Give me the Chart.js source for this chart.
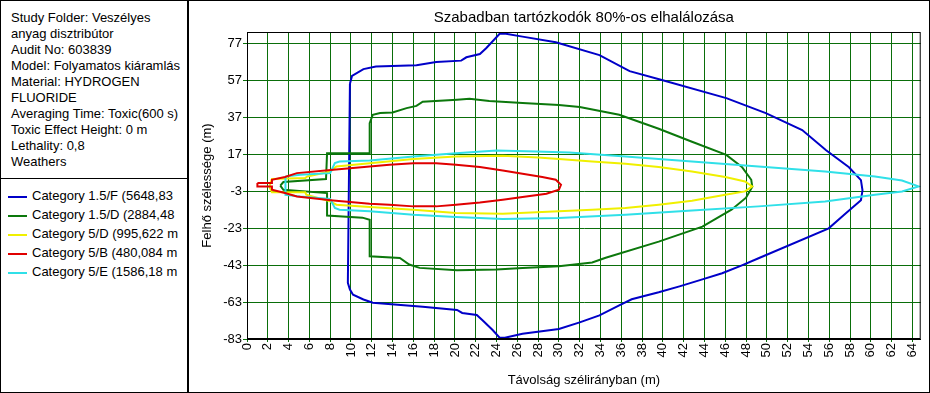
<!DOCTYPE html>
<html>
<head>
<meta charset="utf-8">
<script src="https://cdn.jsdelivr.net/npm/chart.js@4"></script>
<style>
  body { margin: 0; background: #fff; font-family: "Liberation Sans", Arial, sans-serif; }
  #frame { position: absolute; left: 0; top: 0; width: 930px; height: 393px; border: 1px solid #000; box-sizing: border-box; }
  #side { position: absolute; left: 0; top: 0; width: 187px; height: 393px; border-right: 2px solid #000; }
  #info { position: absolute; left: 11px; top: 10px; font-size: 13px; line-height: 16px; white-space: nowrap; }
  #sep { position: absolute; left: 0; top: 178px; width: 187px; height: 1px; background: #000; }
  #legend { position: absolute; left: 8px; top: 186px; font-size: 13px; }
  .item { height: 19px; line-height: 19px; white-space: nowrap; }
  .swatch { display: inline-block; width: 19px; height: 2px; vertical-align: middle; margin-right: 5px; }
  #wrap { position: absolute; left: 189px; top: 1px; width: 740px; height: 391px; }
</style>
</head>
<body>
<div id="frame"></div>
<div id="side">
  <div id="info">
    <div>Study Folder: Veszélyes</div>
    <div>anyag disztribútor</div>
    <div>Audit No: 603839</div>
    <div>Model: Folyamatos kiáramlás</div>
    <div>Material: HYDROGEN</div>
    <div>FLUORIDE</div>
    <div>Averaging Time: Toxic(600 s)</div>
    <div>Toxic Effect Height: 0 m</div>
    <div>Lethality: 0,8</div>
    <div>Weathers</div>
  </div>
  <div id="sep"></div>
  <div id="legend"></div>
</div>
<div id="wrap"><canvas id="hazard-chart" width="740" height="391"></canvas></div>
<script>
// Series names (as shown, truncated) and colours
const seriesNames = [
  'Category 1.5/F (5648,83',
  'Category 1.5/D (2884,48',
  'Category 5/D (995,622 m',
  'Category 5/B (480,084 m',
  'Category 5/E (1586,18 m'
];
const seriesColors = ['#0000c8', '#0c780c', '#f0f000', '#e00000', '#30e0e8'];
const chartTitle = 'Szabadban tartózkodók 80%-os elhalálozása';

// Axis ticks
const xTicks = [0, 2, 4, 6, 8, 10, 12, 14, 16, 18, 20, 22, 24, 26, 28, 30, 32,
  34, 36, 38, 40, 42, 44, 46, 48, 50, 52, 54, 56, 58, 60, 62, 64];
const yTicks = [-83, -63, -43, -23, -3, 17, 37, 57, 77];

// Category 1.5/F contour
const f15X = [9.9, 10.1, 11.2, 12.4, 16.3, 18.2, 20.6, 21.1, 22.4, 23.0, 24.3, 24.9, 26.5, 29.7,
  33.9, 36.8, 39.9, 46.1, 49.9, 53.4, 55.7, 57.9, 59.05, 59.2, 59.05, 57.6, 55.95, 49.2,
  47.6, 45.7, 43.8, 41.6, 39.6, 37.0, 35.8, 33.9, 32.0, 30.0, 26.5, 24.8, 24.3, 23.6,
  22.6, 22.1, 20.7, 20.2, 16.9, 12.1, 11.2, 10.2, 9.9, 9.7, 9.9];
const f15Y = [55.2, 59.4, 63.1, 64.5, 65.2, 67.0, 67.7, 69.5, 71.3, 74.4, 82.2, 82.2, 80.7, 77.6,
  70.7, 62.0, 57.2, 47.4, 39.3, 30.1, 19.2, 10.0, 3.0, -2.5, -7.9, -14.9, -23.1, -39.3,
  -43.1, -47.4, -50.7, -54.5, -57.7, -61.5, -64.8, -70.2, -74.0, -77.6, -80.2, -82.3, -82.3, -78.0,
  -72.6, -70.0, -68.9, -67.3, -65.5, -63.4, -61.6, -59.0, -56.2, -52.6, 55.2];

// Category 1.5/D contour
const d15X = [3.2, 3.5, 7.6, 7.7, 11.8, 11.8, 12.1, 12.8, 14.0, 15.35, 16.3, 16.9, 20.2, 21.4,
  23.3, 26.5, 30.0, 32.0, 35.8, 39.6, 42.8, 46.1, 47.6, 48.5, 48.6, 48.0, 46.6, 43.8, 39.6,
  34.5, 33.2, 30.0, 26.5, 24.0, 20.2, 16.6, 15.6, 14.7, 11.8, 11.8, 11.1, 7.7, 7.7, 3.5, 3.2];
const d15Y = [0.0, 2.0, 3.6, 17.5, 17.5, 33.8, 38.4, 39.4, 39.6, 42.0, 43.2, 45.5, 46.5, 47.0,
  45.9, 44.8, 43.7, 42.6, 38.4, 30.8, 23.8, 16.7, 10.2, 3.2, -0.6, -6.5, -13.0, -22.2, -30.3,
  -39.0, -41.6, -43.6, -44.5, -45.4, -45.8, -44.5, -42.7, -39.1, -38.2, -18.4, -17.3, -16.2, -4.0, -2.2, 0.0];

// Category 5/D contour
const d5X = [2.2, 2.4, 5.6, 5.8, 8.0, 8.6, 11.8, 16.0, 20.1, 24.6, 28.0, 30.0, 33.2, 36.4, 39.6,
  42.8, 46.0, 47.9, 48.6, 47.9, 46.0, 42.8, 39.6, 36.4, 33.2, 30.0, 24.6, 20.1, 16.0, 11.8,
  8.6, 8.0, 5.7, 5.6, 2.4, 2.2, 2.2];
const d5Y = [0.5, 3.6, 4.1, 5.0, 7.7, 10.4, 12.2, 14.4, 15.8, 16.2, 15.3, 14.4, 13.1, 11.9, 10.1,
  7.7, 4.7, 2.3, -0.4, -3.1, -4.9, -8.1, -10.3, -12.1, -13.0, -13.9, -15.2, -14.8, -13.0, -11.6,
  -10.3, -8.5, -4.9, -3.6, -3.6, -1.3, 0.5];

// Category 5/B contour
const b5X = [1.0, 2.4, 2.4, 3.65, 4.8, 8.3, 11.8, 13.7, 16.0, 18.2, 20.1, 22.4, 24.6, 26.5, 28.4,
  29.7, 30.2, 30.0, 28.8, 26.5, 24.6, 22.4, 20.1, 18.2, 16.0, 13.7, 11.8, 8.3, 4.8, 3.65,
  2.4, 2.4, 1.0, 1.0];
const b5Y = [1.4, 1.4, 3.2, 4.7, 6.8, 8.6, 10.4, 11.3, 12.2, 12.2, 11.3, 10.1, 8.2, 6.5, 4.7,
  3.2, 0.5, -2.2, -4.4, -6.1, -7.6, -9.1, -10.3, -11.2, -11.2, -10.3, -9.8, -8.0, -5.8, -4.0,
  -2.2, -0.4, -0.4, 1.4];

// Category 5/E contour
const e5X = [3.7, 5.1, 8.0, 8.45, 8.9, 11.8, 16.0, 20.1, 24.0, 27.8, 31.0, 36.4, 42.8, 49.2, 55.6,
  60.4, 63.0, 64.6, 63.0, 60.4, 55.6, 49.2, 42.8, 36.4, 30.0, 24.6, 20.1, 16.0, 11.8, 8.9,
  8.45, 8.0, 5.1, 3.7, 3.7];
const e5Y = [5.0, 5.9, 6.8, 12.2, 13.1, 13.6, 15.8, 17.6, 19.1, 18.5, 18.0, 15.8, 13.1, 10.4, 7.7,
  5.0, 2.8, -0.4, -3.1, -4.9, -8.5, -11.2, -13.4, -15.7, -17.5, -18.0, -16.9, -15.7, -13.9, -13.0,
  -12.1, -7.2, -5.8, -4.9, 5.0];

const seriesX = [f15X, d15X, d5X, b5X, e5X];
const seriesY = [f15Y, d15Y, d5Y, b5Y, e5Y];
const drawOrder = [5, 4, 3, 1, 2];

// Legend in the side panel
const legendBox = document.getElementById('legend');
seriesNames.forEach((name, i) => {
  const row = document.createElement('div');
  row.className = 'item';
  row.innerHTML = '<span class="swatch" style="background:' + seriesColors[i] + '"></span>' + name;
  legendBox.appendChild(row);
});

const datasets = seriesNames.map((name, i) => ({
  label: name,
  data: seriesX[i].map((x, k) => ({ x: x, y: seriesY[i][k] })),
  showLine: true,
  fill: false,
  borderColor: seriesColors[i],
  backgroundColor: seriesColors[i],
  borderWidth: 2,
  pointRadius: 0,
  tension: 0,
  order: drawOrder[i]
}));

const fontFamily = '"Liberation Sans", Arial, sans-serif';

// Black frame around plot area + title centred over the plot
const plotFrame = {
  id: 'plotFrame',
  afterDraw(chart) {
    const { ctx, chartArea: a } = chart;
    ctx.save();
    ctx.strokeStyle = '#000';
    ctx.lineWidth = 1;
    ctx.strokeRect(a.left + 0.5, a.top + 0.5, a.right - a.left - 1, a.bottom - a.top - 1);
    ctx.fillStyle = '#000';
    ctx.font = '15px ' + fontFamily;
    ctx.textAlign = 'center';
    ctx.textBaseline = 'middle';
    ctx.fillText(chartTitle, (a.left + a.right) / 2, 16.5);
    ctx.restore();
  }
};

const ctx = document.getElementById('hazard-chart').getContext('2d');

const hazardChart = new Chart(ctx, {
  type: 'scatter',
  data: { datasets: datasets },
  plugins: [plotFrame],
  options: {
    responsive: false,
    animation: false,
    devicePixelRatio: 1,
    layout: { padding: { top: 31, left: 0, right: 0, bottom: 0 } },
    plugins: {
      legend: { display: false },
      tooltip: { enabled: false },
      title: { display: false }
    },
    scales: {
      x: {
        type: 'linear',
        min: 0,
        max: 64.8,
        afterBuildTicks: scale => { scale.ticks = xTicks.map(v => ({ value: v })); },
        afterFit: scale => { scale.height = 53; },
        ticks: {
          autoSkip: false,
          minRotation: 90,
          maxRotation: 90,
          padding: 1,
          color: '#000',
          font: { size: 13, family: fontFamily }
        },
        grid: { color: '#0a6e0a', tickLength: 3 },
        border: { color: '#000' },
        title: {
          display: true,
          text: 'Távolság szélirányban (m)',
          color: '#000',
          font: { size: 13, family: fontFamily },
          padding: { top: 0, bottom: 4 }
        }
      },
      y: {
        type: 'linear',
        min: -83,
        max: 83.2,
        afterBuildTicks: scale => { scale.ticks = yTicks.map(v => ({ value: v })); },
        afterFit: scale => { scale.width = 58; },
        ticks: {
          padding: 1,
          color: '#000',
          font: { size: 13, family: fontFamily }
        },
        grid: { color: '#0a6e0a', tickLength: 4 },
        border: { color: '#000' },
        title: {
          display: true,
          text: 'Felhő szélessége (m)',
          color: '#000',
          font: { size: 13, family: fontFamily },
          padding: { top: 11, bottom: 0 }
        }
      }
    }
  }
});
</script>
</body>
</html>
